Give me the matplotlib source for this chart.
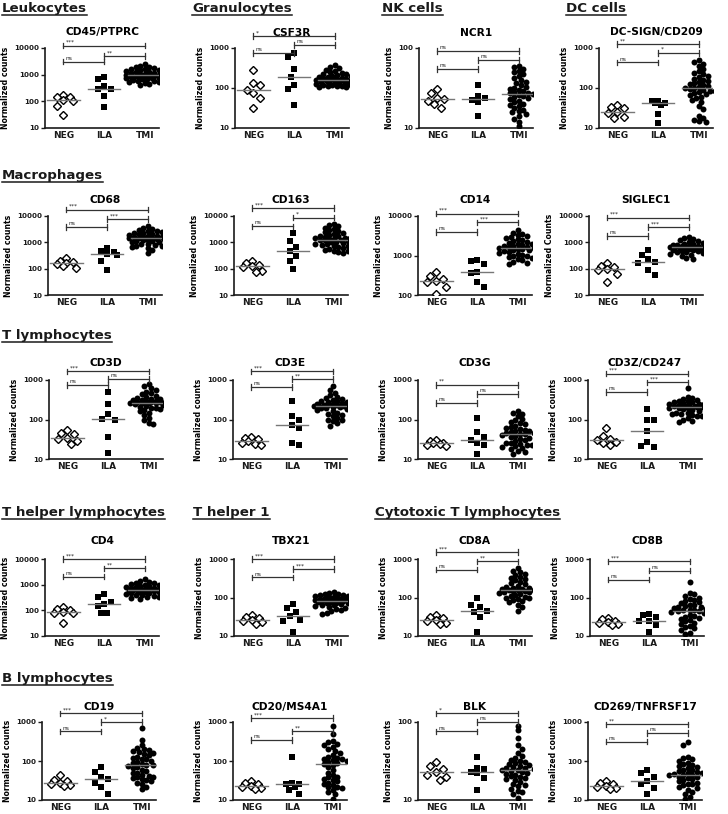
import numpy as np
import matplotlib
matplotlib.use("Agg")
import matplotlib.pyplot as plt
from matplotlib.lines import Line2D
from matplotlib.transforms import blended_transform_factory
from matplotlib.ticker import FixedLocator, NullLocator, FuncFormatter

plt.rcParams['font.family'] = ['DejaVu Sans']

groups = ["NEG", "ILA", "TMI"]

# ---------------- data: normalized counts ----------------
cd45_neg = [175, 150, 140, 110, 100, 65, 30]
cd45_ila = [850, 700, 380, 300, 290, 160, 60]
cd45_tmi = [2500, 2200, 2000, 1900, 1800, 1700, 1600, 1500, 1450, 1400, 1350, 1300, 1250, 1200,
            1150, 1100, 1050, 1000, 980, 950, 920, 900, 880, 850, 820, 800, 780, 750, 720, 700,
            680, 650, 620, 600, 580, 550, 520, 500, 450, 400]
cd45_sig = ["***", "**", "ns"]

csf3r_neg = [280, 135, 120, 90, 75, 56, 32]
csf3r_ila = [750, 600, 300, 190, 120, 94, 38]
csf3r_tmi = [370, 340, 310, 290, 270, 250, 240, 230, 220, 210, 200, 195, 190, 185, 180, 175, 170,
             168, 165, 162, 160, 158, 155, 150, 148, 145, 140, 138, 135, 130, 128, 125, 122, 120,
             118, 115, 112, 110, 108, 105]
csf3r_sig = ["*", "ns", "ns"]

ncr1_neg = [31, 27, 24, 23, 22, 20, 18]
ncr1_ila = [34, 25, 24, 22.5, 21, 14]
ncr1_tmi = [60, 58, 55, 52, 50, 47, 45, 42, 40, 38, 36, 34, 33, 32, 31, 30, 29, 28, 27.5, 27, 26.5,
            26, 25, 24.5, 24, 23, 22, 21, 20, 19.5, 19, 18, 17, 16.5, 16, 15, 14, 13, 12, 10.5]
ncr1_sig = ["ns", "ns", "ns"]

dcsign_neg = [37, 34, 32, 25, 24, 19, 18]
dcsign_ila = [48, 46, 43, 41, 38, 23, 13]
dcsign_tmi = [500, 450, 400, 350, 300, 260, 240, 220, 200, 185, 170, 160, 150, 140, 130, 125, 118,
              112, 106, 102, 98, 94, 90, 86, 82, 78, 74, 70, 65, 60, 55, 50, 45, 35, 30, 20, 18, 16,
              15, 14]
dcsign_sig = ["**", "*", "ns"]

cd68_neg = [250, 190, 175, 160, 150, 125, 110]
cd68_ila = [630, 470, 440, 360, 330, 190, 90]
cd68_tmi = [4000, 3500, 3200, 3000, 2800, 2600, 2400, 2300, 2200, 2100, 2000, 1900, 1800, 1750,
            1700, 1650, 1600, 1550, 1500, 1480, 1450, 1400, 1350, 1300, 1250, 1200, 1150, 1100,
            1050, 1000, 950, 900, 850, 800, 750, 700, 650, 600, 500, 400]
cd68_sig = ["***", "***", "ns"]

cd163_neg = [190, 160, 140, 125, 115, 80, 75]
cd163_ila = [2200, 1100, 650, 450, 290, 200, 100]
cd163_tmi = [5000, 4500, 4000, 3600, 3200, 2900, 2600, 2400, 2200, 2000, 1900, 1800, 1700, 1600,
             1500, 1450, 1400, 1350, 1300, 1280, 1250, 1200, 1150, 1100, 1050, 1000, 950, 900, 850,
             800, 750, 700, 650, 600, 560, 520, 480, 450, 420, 400]
cd163_sig = ["***", "*", "ns"]

cd14_neg = [390, 300, 260, 230, 210, 160, 108]
cd14_ila = [780, 730, 600, 390, 370, 215, 160]
cd14_tmi = [4500, 3800, 3600, 3400, 3200, 3000, 2800, 2600, 2400, 2300, 2200, 2100, 2000, 1900,
            1800, 1750, 1700, 1650, 1600, 1580, 1550, 1500, 1450, 1400, 1350, 1300, 1250, 1200,
            1150, 1100, 1050, 1000, 950, 900, 850, 800, 750, 700, 650, 620]
cd14_sig = ["***", "***", "ns"]

siglec1_neg = [160, 130, 115, 100, 88, 65, 32]
siglec1_ila = [500, 320, 230, 175, 160, 90, 58]
siglec1_tmi = [1600, 1400, 1300, 1200, 1100, 1000, 950, 900, 860, 820, 800, 780, 750, 720, 700,
               690, 680, 670, 660, 650, 640, 630, 620, 600, 580, 560, 540, 520, 500, 480, 460, 440,
               420, 400, 380, 360, 340, 300, 260, 230]
siglec1_sig = ["***", "***", "ns"]

cd3d_neg = [54, 45, 42, 35, 32, 28, 24]
cd3d_ila = [500, 245, 140, 102, 100, 37, 14]
cd3d_tmi = [800, 700, 620, 560, 500, 460, 430, 400, 380, 360, 340, 330, 320, 310, 300, 290, 285,
            280, 275, 270, 268, 265, 260, 255, 250, 240, 230, 220, 210, 200, 190, 180, 170, 160,
            150, 130, 110, 95, 80, 75]
cd3d_sig = ["***", "ns", "ns"]

cd3e_neg = [37, 34, 32, 28, 26, 24, 23]
cd3e_ila = [290, 125, 100, 72, 60, 26, 23]
cd3e_tmi = [700, 550, 480, 420, 380, 360, 340, 320, 300, 290, 280, 270, 260, 250, 245, 240, 235,
            230, 228, 226, 224, 220, 215, 210, 205, 200, 190, 180, 170, 160, 150, 140, 130, 120,
            110, 100, 95, 90, 80, 70]
cd3e_sig = ["***", "**", "ns"]

cd3g_neg = [30, 28, 26, 25, 24, 22, 21]
cd3g_ila = [108, 48, 37, 31, 25, 22, 13]
cd3g_tmi = [160, 150, 140, 120, 105, 95, 88, 80, 75, 70, 65, 62, 58, 55, 52, 50, 48, 46, 45, 44,
            42, 40, 38, 36, 34, 32, 30, 28, 26, 25, 24, 23, 22, 21, 20, 19, 18, 16, 15, 13]
cd3g_sig = ["**", "ns", "ns"]

cd3z_neg = [60, 38, 33, 30, 27, 25, 23]
cd3z_ila = [185, 98, 95, 50, 27, 21, 20]
cd3z_tmi = [620, 380, 360, 340, 320, 300, 290, 280, 270, 260, 250, 245, 240, 235, 230, 225, 220,
            215, 212, 210, 208, 205, 200, 195, 190, 180, 170, 160, 150, 145, 140, 135, 130, 125,
            120, 115, 110, 100, 90, 85]
cd3z_sig = ["***", "***", "ns"]

cd4_neg = [140, 115, 100, 85, 82, 78, 31]
cd4_ila = [420, 340, 220, 175, 150, 82, 76]
cd4_tmi = [1600, 1400, 1300, 1200, 1150, 1100, 1000, 950, 900, 850, 820, 800, 780, 750, 720, 700,
           680, 660, 650, 640, 630, 620, 600, 580, 560, 540, 520, 500, 480, 460, 440, 420, 400, 380,
           360, 340, 320, 300, 290, 280]
cd4_sig = ["***", "**", "ns"]

tbx21_neg = [35, 31, 29, 26, 25, 23, 21]
tbx21_ila = [68, 52, 43, 33, 26, 24, 13]
tbx21_tmi = [135, 130, 125, 120, 118, 115, 112, 110, 108, 105, 102, 100, 98, 95, 92, 90, 88, 86,
             85, 84, 83, 82, 80, 78, 76, 74, 72, 70, 68, 66, 64, 62, 60, 57, 54, 50, 47, 44, 40, 38]
tbx21_sig = ["***", "***", "ns"]

cd8a_neg = [35, 32, 29, 26, 25, 22, 20]
cd8a_ila = [95, 65, 58, 45, 42, 32, 13]
cd8a_tmi = [600, 500, 470, 420, 380, 350, 320, 300, 280, 260, 240, 220, 200, 190, 180, 175, 170,
            165, 160, 155, 152, 150, 145, 140, 135, 130, 125, 120, 115, 110, 105, 100, 95, 90, 85,
            80, 75, 65, 55, 45]
cd8a_sig = ["***", "**", "ns"]

cd8b_neg = [30, 27, 25, 23, 22, 20, 19]
cd8b_ila = [38, 35, 32, 25, 24, 19, 13]
cd8b_tmi = [250, 130, 120, 110, 100, 90, 85, 80, 75, 70, 65, 62, 60, 58, 55, 52, 50, 48, 47, 46,
            45, 44, 42, 40, 38, 36, 34, 32, 30, 28, 26, 24, 22, 20, 18, 17, 16, 14, 12, 11]
cd8b_sig = ["***", "ns", "ns"]

cd19_neg = [44, 32, 30, 27, 26, 24, 23]
cd19_ila = [71, 53, 38, 35, 28, 21, 14]
cd19_tmi = [700, 350, 260, 220, 200, 190, 180, 170, 160, 150, 140, 130, 120, 115, 110, 100, 95,
            90, 85, 80, 78, 75, 70, 65, 60, 55, 50, 48, 45, 42, 40, 38, 36, 34, 32, 30, 28, 25, 22,
            19]
cd19_sig = ["***", "*", "ns"]

cd20_neg = [31, 28, 25, 23, 22, 20, 19]
cd20_ila = [128, 27, 26, 25, 22, 18, 14]
cd20_tmi = [800, 500, 320, 300, 280, 250, 230, 200, 180, 160, 140, 130, 120, 115, 110, 105, 100,
            95, 90, 85, 80, 70, 60, 50, 45, 40, 38, 35, 32, 30, 28, 26, 24, 22, 21, 20, 18, 16, 14,
            10.5]
cd20_sig = ["***", "**", "ns"]

blk_neg = [31, 27, 25, 23, 21, 19.5, 18]
blk_ila = [36, 26, 25, 23, 22, 19, 13.5]
blk_tmi = [90, 78, 62, 50, 45, 40, 37, 35, 33, 32, 31, 30, 29, 28, 27, 26.5, 26, 25.5, 25, 24.5,
           24, 23.5, 23, 22, 21.5, 21, 20.5, 20, 19, 18.5, 18, 17, 16, 15.5, 15, 14, 13, 12.5, 12,
           10.5]
blk_sig = ["*", "ns", "ns"]

cd269_neg = [30, 27, 25, 23, 22, 20, 19]
cd269_ila = [58, 50, 40, 30, 25, 20, 14]
cd269_tmi = [300, 260, 130, 120, 110, 100, 90, 85, 80, 75, 70, 65, 60, 58, 55, 52, 50, 48, 46, 45,
             44, 43, 42, 40, 38, 36, 34, 32, 30, 28, 26, 25, 24, 22, 20, 18, 16, 14, 12, 10.5]
cd269_sig = ["**", "ns", "ns"]

# (title, neg, ila, tmi, sig, decade range, ylabel)
rows = [
    [("CD45/PTPRC", cd45_neg, cd45_ila, cd45_tmi, cd45_sig, (1, 4), "Normalized counts"),
     ("CSF3R", csf3r_neg, csf3r_ila, csf3r_tmi, csf3r_sig, (1, 3), "Normalized counts"),
     ("NCR1", ncr1_neg, ncr1_ila, ncr1_tmi, ncr1_sig, (1, 2), "Normalized counts"),
     ("DC-SIGN/CD209", dcsign_neg, dcsign_ila, dcsign_tmi, dcsign_sig, (1, 3), "Normalized counts")],
    [("CD68", cd68_neg, cd68_ila, cd68_tmi, cd68_sig, (1, 4), "Normalized counts"),
     ("CD163", cd163_neg, cd163_ila, cd163_tmi, cd163_sig, (1, 4), "Normalized counts"),
     ("CD14", cd14_neg, cd14_ila, cd14_tmi, cd14_sig, (2, 4), "Normalized counts"),
     ("SIGLEC1", siglec1_neg, siglec1_ila, siglec1_tmi, siglec1_sig, (1, 4), "Normalized Counts")],
    [("CD3D", cd3d_neg, cd3d_ila, cd3d_tmi, cd3d_sig, (1, 3), "Normalized counts"),
     ("CD3E", cd3e_neg, cd3e_ila, cd3e_tmi, cd3e_sig, (1, 3), "Normalized counts"),
     ("CD3G", cd3g_neg, cd3g_ila, cd3g_tmi, cd3g_sig, (1, 3), "Normalized counts"),
     ("CD3Z/CD247", cd3z_neg, cd3z_ila, cd3z_tmi, cd3z_sig, (1, 3), "Normalized counts")],
    [("CD4", cd4_neg, cd4_ila, cd4_tmi, cd4_sig, (1, 4), "Normalized counts"),
     ("TBX21", tbx21_neg, tbx21_ila, tbx21_tmi, tbx21_sig, (1, 3), "Normalized counts"),
     ("CD8A", cd8a_neg, cd8a_ila, cd8a_tmi, cd8a_sig, (1, 3), "Normalized counts"),
     ("CD8B", cd8b_neg, cd8b_ila, cd8b_tmi, cd8b_sig, (1, 3), "Normalized counts")],
    [("CD19", cd19_neg, cd19_ila, cd19_tmi, cd19_sig, (1, 3), "Normalized counts"),
     ("CD20/MS4A1", cd20_neg, cd20_ila, cd20_tmi, cd20_sig, (1, 3), "Normalized counts"),
     ("BLK", blk_neg, blk_ila, blk_tmi, blk_sig, (1, 2), "Normalized counts"),
     ("CD269/TNFRSF17", cd269_neg, cd269_ila, cd269_tmi, cd269_sig, (1, 3), "Normalized counts")],
]

# section headings: (row, x px, text)
headings = [(0, 2, "Leukocytes"), (0, 192, "Granulocytes"), (0, 382, "NK cells"), (0, 566, "DC cells"),
            (1, 2, "Macrophages"), (2, 2, "T lymphocytes"),
            (3, 2, "T helper lymphocytes"), (3, 193, "T helper 1"), (3, 375, "Cytotoxic T lymphocytes"),
            (4, 2, "B lymphocytes")]

# ---------------- layout (pixels) ----------------
W, H = 728, 814
row_y = [(48, 128), (216, 295), (380, 459), (559, 636), (722, 800)]
col_x = [[45, 235, 419, 599], [48, 234, 418, 589], [49, 233, 418, 588],
         [45, 234, 418, 590], [42, 233, 418, 588]]
ax_w = 114
title_pad = [9, 9.7, 10.3, 10.5, 8.7]
heading_base = [12, 179, 339, 516, 682]
# bracket heights (axes fraction): NEG-TMI, ILA-TMI, NEG-ILA
bracket_y = [[(1.03, 0.90, 0.83), (1.15, 1.04, 0.94), (0.96, 0.85, 0.74), (1.05, 0.94, 0.82)],
             [(1.08, 0.96, 0.86), (1.10, 0.98, 0.87), (1.03, 0.92, 0.80), (0.98, 0.86, 0.75)],
             [(1.11, 1.01, 0.94), (1.11, 1.01, 0.91), (0.94, 0.82, 0.71), (1.08, 0.97, 0.85)],
             [(1.00, 0.88, 0.77), (1.00, 0.87, 0.76), (1.09, 0.97, 0.86), (0.97, 0.85, 0.73)],
             [(1.11, 1.00, 0.88), (1.05, 0.88, 0.77), (1.11, 1.00, 0.88), (0.97, 0.86, 0.75)]]

XMIN, XMAX = -0.45, 2.35
ink = '#1a1a1a'


def swarm(vals, px_dec, px_unit, d, maxw, vf):
    # simple beeswarm with a width cap: offsets in category units
    # vf < 1 squeezes vertical gaps so that nearby values spread sideways more
    y = np.log10(np.asarray(vals, float)) * px_dec * vf
    offs = np.zeros(len(y))
    px, py = [], []
    s = d * 0.5
    nmax = int(maxw // s)
    for n, i in enumerate(np.argsort(-y)):
        sgn = 1 if n % 2 == 0 else -1
        cands = [0.0]
        for k in range(1, nmax + 1):
            cands += [sgn * k * s, -sgn * k * s]
        best, best_d = 0.0, -1
        for cand in cands:
            md = min([np.hypot(cand - a, y[i] - b) for a, b in zip(px, py)] or [99])
            if md >= d:
                best = cand
                break
            if md > best_d + 0.5:
                best, best_d = cand, md
        px.append(best)
        py.append(y[i])
        offs[i] = best / px_unit
    return offs


fig = plt.figure(figsize=(W / 100, H / 100), dpi=100)

styles = [dict(marker='D', ms=3.8, mfc='white', mec='black', mew=1.0),
          dict(marker='s', ms=3.8, mfc='black', mec='black', mew=0),
          dict(marker='o', ms=4.3, mfc='black', mec='black', mew=0)]
spacing = [6.5, 6.5, 4.6]
widths = [11, 11, 19]
vsqueeze = [0.75, 0.75, 1.0]

for r, row in enumerate(rows):
    top, bot = row_y[r]
    for c, (title, neg, ila, tmi, sig, (lo, hi), ylab) in enumerate(row):
        left = col_x[r][c]
        ax = fig.add_axes([left / W, 1 - bot / H, ax_w / W, (bot - top) / H])
        ax.set_yscale('log')
        ax.set_ylim(10 ** lo, 10 ** hi)
        ax.set_xlim(XMIN, XMAX)
        px_dec = (bot - top) / (hi - lo)
        px_unit = ax_w / (XMAX - XMIN)

        for g, vals in enumerate([neg, ila, tmi]):
            xo = g + swarm(vals, px_dec, px_unit, spacing[g], widths[g], vsqueeze[g])
            ax.plot(xo, vals, linestyle='none', zorder=3, **styles[g])
            med = np.median(vals)
            ax.plot([g - 0.4, g + 0.4], [med, med], color='#777777', lw=1.0, zorder=4)

        # significance brackets
        trans = blended_transform_factory(ax.transData, ax.transAxes)
        pairs = [(0, 2), (1, 2), (0, 1)]
        for (x0, x1), yb, lab in zip(pairs, bracket_y[r][c], sig):
            ax.plot([x0, x1], [yb, yb], transform=trans, color='#333333', lw=0.9,
                    clip_on=False, zorder=5)
            for xe in (x0, x1):
                ax.plot([xe, xe], [yb - 0.035, yb + 0.035], transform=trans, color='#333333',
                        lw=0.9, clip_on=False, zorder=5)
            ax.text(x0 + 0.06, yb + 0.01, lab, transform=trans, fontsize=4.3, ha='left',
                    va='bottom', color='#222222', clip_on=False)

        ax.set_title(title, fontsize=7.7, fontweight='bold', pad=title_pad[r])
        ax.set_ylabel(ylab, fontsize=5.6, fontweight='bold', labelpad=3)
        ax.yaxis.set_major_locator(FixedLocator([10 ** k for k in range(lo, hi + 1)]))
        ax.yaxis.set_minor_locator(NullLocator())
        ax.yaxis.set_major_formatter(FuncFormatter(lambda v, p: "%d" % round(v)))
        ax.set_xticks([0, 1, 2])
        ax.set_xticklabels(groups)
        ax.tick_params(axis='y', labelsize=5.1, length=3, width=1, pad=1, colors=ink)
        ax.tick_params(axis='x', labelsize=6.5, length=0, pad=2.5, colors=ink)
        for lbl in ax.get_xticklabels() + ax.get_yticklabels():
            lbl.set_fontweight('bold')
        for sp in ['top', 'right']:
            ax.spines[sp].set_visible(False)
        for sp in ['left', 'bottom']:
            ax.spines[sp].set_linewidth(1.2)
            ax.spines[sp].set_color(ink)

head_texts = []
for r, x, txt in headings:
    t = fig.text(x / W, 1 - heading_base[r] / H, txt, fontsize=9.6, fontweight='bold',
                 ha='left', va='baseline', color=ink)
    head_texts.append((t, r, x))

fig.canvas.draw()
rend = fig.canvas.get_renderer()
for t, r, x in head_texts:
    bb = t.get_window_extent(rend)
    yl = 1 - (heading_base[r] + 3) / H
    fig.add_artist(Line2D([bb.x0 / W, bb.x1 / W], [yl, yl], transform=fig.transFigure,
                          color=ink, lw=1.1))

fig.savefig("out.png", dpi=100)
